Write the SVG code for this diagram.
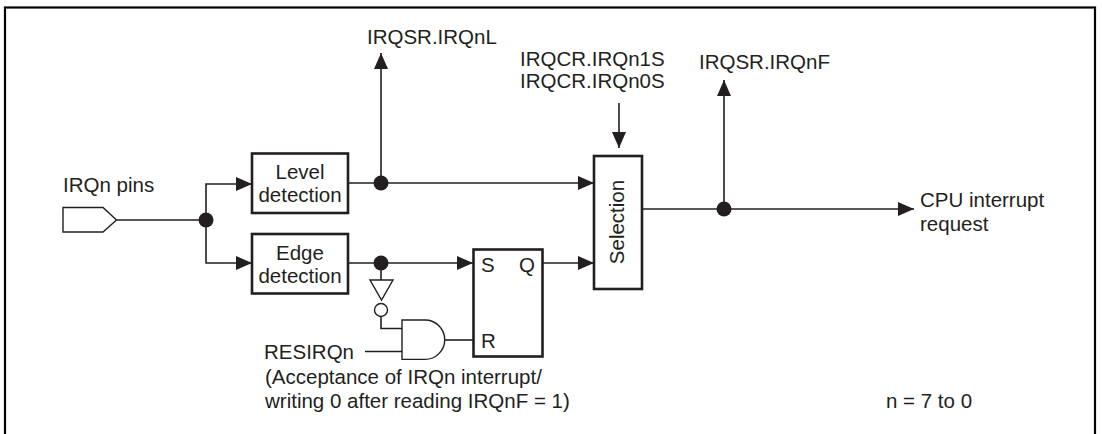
<svg xmlns="http://www.w3.org/2000/svg" width="1102" height="434" viewBox="0 0 1102 434">
<defs>
<style>
text{font-family:"Liberation Sans",Arial,sans-serif;font-size:20.5px;fill:#231f20}
.box{fill:#fff;stroke:#231f20;stroke-width:2.6}
.ln{fill:none;stroke:#231f20;stroke-width:1.6}
.thin{fill:#fff;stroke:#231f20;stroke-width:1.4}
.dot{fill:#231f20}
</style>
<marker id="ah" viewBox="0 0 16 14" refX="16" refY="7" markerWidth="16" markerHeight="14" markerUnits="userSpaceOnUse" orient="auto">
<path d="M0,0 L16,7 L0,14 Z" fill="#231f20"/>
</marker>
</defs>
<rect x="0" y="0" width="1102" height="434" fill="#fff"/>
<rect x="5" y="7.5" width="1090" height="440" fill="none" stroke="#000" stroke-width="2.2"/>

<g id="connectors">
<path class="ln" d="M117,220 H206"/>
<path class="ln" d="M206,220 V184 H252" marker-end="url(#ah)"/>
<path class="ln" d="M206,220 V263 H252" marker-end="url(#ah)"/>
<path class="ln" d="M348,183 H594" marker-end="url(#ah)"/>
<path class="ln" d="M381,183 V53" marker-end="url(#ah)"/>
<path class="ln" d="M348,263 H473" marker-end="url(#ah)"/>
<path class="ln" d="M543,263 H594" marker-end="url(#ah)"/>
<path class="ln" d="M619,103 V148" marker-end="url(#ah)"/>
<path class="ln" d="M642,209 H914" marker-end="url(#ah)"/>
<path class="ln" d="M724,209 V80" marker-end="url(#ah)"/>
<path class="ln" d="M381,263 V280"/>
<path class="ln" d="M381,316.5 V328.5 H402"/>
<path class="ln" d="M365,351.5 H402"/>
<path class="ln" d="M445,340 H473"/>
<circle class="dot" cx="206" cy="220" r="7.5"/>
<circle class="dot" cx="381" cy="183" r="7.5"/>
<circle class="dot" cx="381" cy="263" r="7.5"/>
<circle class="dot" cx="724" cy="209" r="7.5"/>
</g>

<g id="pin">
<path class="thin" d="M63,207.5 H103 L116.5,220 L103,232 H63 Z"/>
<text x="63" y="192">IRQn pins</text>
</g>

<g id="level">
<rect class="box" x="252" y="153.5" width="96" height="59.5"/>
<text x="300" y="179" text-anchor="middle">Level</text>
<text x="300" y="202" text-anchor="middle">detection</text>
</g>

<g id="edge">
<rect class="box" x="252" y="234" width="96" height="59.5"/>
<text x="300" y="260" text-anchor="middle">Edge</text>
<text x="300" y="283" text-anchor="middle">detection</text>
</g>

<g id="inverter">
<path class="thin" d="M370,280 H393 L381.5,300 Z"/>
<circle class="thin" cx="381" cy="310" r="6.5"/>
</g>

<g id="and">
<path class="thin" d="M402,320 H425 A19.7,19.7 0 0 1 425,359.4 H402 Z"/>
</g>

<g id="sr">
<rect class="box" x="473.5" y="249.5" width="69" height="107"/>
<text x="481" y="272">S</text>
<text x="519" y="272">Q</text>
<text x="481" y="348">R</text>
</g>

<g id="selection">
<rect class="box" x="594" y="156" width="48" height="133"/>
<text transform="translate(624,222) rotate(-90)" text-anchor="middle">Selection</text>
</g>

<g id="labels">
<text x="367" y="44">IRQSR.IRQnL</text>
<text x="520" y="66">IRQCR.IRQn1S</text>
<text x="520" y="88">IRQCR.IRQn0S</text>
<text x="699" y="69">IRQSR.IRQnF</text>
<text x="920" y="207">CPU interrupt</text>
<text x="920" y="231">request</text>
<text x="264" y="359">RESIRQn</text>
<text x="265" y="384">(Acceptance of IRQn interrupt/</text>
<text x="265" y="408">writing 0 after reading IRQnF = 1)</text>
<text x="886" y="408">n = 7 to 0</text>
</g>
</svg>
